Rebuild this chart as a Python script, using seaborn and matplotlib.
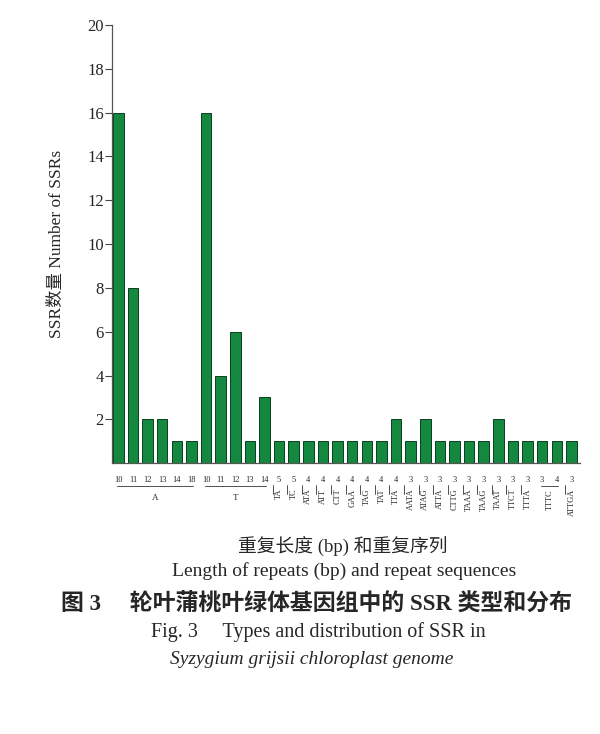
import pandas as pd
import numpy as np
import matplotlib
matplotlib.use("Agg")
import matplotlib.pyplot as plt
import seaborn as sns

# repeat length of each bar, its repeat sequence and the SSR count
repeats = [10, 11, 12, 13, 14, 18,
           10, 11, 12, 13, 14,
           5, 5, 4, 4, 4, 4, 4, 4, 4,
           3, 3, 3, 3, 3, 3, 3, 3, 3, 3, 4, 3]
motifs = ["A"] * 6 + ["T"] * 5 + \
         ["TA", "TC", "ATA", "ATT", "CTT", "GAA", "TAG", "TAT", "TTA",
          "AATA", "ATAG", "ATTA", "CTTG", "TAAA", "TAAG", "TAAT", "TTCT", "TTTA",
          "TTTC", "TTTC", "ATTGA"]
counts = [16, 8, 2, 2, 1, 1,
          16, 4, 6, 1, 3,
          1, 1, 1, 1, 1, 1, 1, 1, 2,
          1, 2, 1, 1, 1, 1, 2, 1, 1, 1, 1, 1]

df = pd.DataFrame({"key": [f"{m}-{r}-{i}" for i, (m, r) in enumerate(zip(motifs, repeats))],
                   "repeat": repeats, "motif": motifs, "count": counts})

sns.set_style("ticks")
plt.rcParams['font.family'] = ['Liberation Serif', 'Noto Sans CJK SC']
plt.rcParams['axes.unicode_minus'] = False

fig = plt.figure(figsize=(6, 7.34), dpi=100)
ax = fig.add_axes([0.187, 0.369, 0.78, 0.597])

sns.barplot(data=df, x="key", y="count", color="#15883f", width=0.72,
            edgecolor="#0b3f1d", linewidth=0.7, saturation=1, ax=ax)

ax.set_ylim(0, 20)
ax.set_xlim(-0.42, 31.6)
ax.set_yticks(np.arange(2, 21, 2))
ax.tick_params(axis="y", labelsize=12, length=5, width=0.8, color="#444", pad=1)
ax.set_xticks(range(len(df)))
ax.set_xticklabels([str(r) for r in repeats], fontsize=6)
ax.tick_params(axis="x", length=0, pad=9)
for s in ["top", "right"]:
    ax.spines[s].set_visible(False)
for s in ["left", "bottom"]:
    ax.spines[s].set_color("#555")
    ax.spines[s].set_linewidth(0.9)
ax.set_xlabel("")
ax.set_ylabel("SSR数量 Number of SSRs", fontsize=12.5, labelpad=16)

# group annotations under the repeat numbers
trans = ax.get_xaxis_transform()
groups = []
start = 0
for i in range(1, len(motifs) + 1):
    if i == len(motifs) or motifs[i] != motifs[start]:
        groups.append((motifs[start], start, i - 1))
        start = i
for name, a, b in groups:
    mid = (a + b) / 2
    if b > a:
        ax.plot([a - 0.1, b + 0.1], [-0.052, -0.052], transform=trans,
                color="#333", lw=0.6, clip_on=False)
        if name in ("A", "T"):
            ax.text(mid, -0.07, name, transform=trans, ha="center", va="top", fontsize=6.5)
        else:
            ax.text(mid, -0.06, name, transform=trans, ha="center", va="top",
                    rotation=90, fontsize=6)
    else:
        ax.plot([mid - 0.45, mid - 0.45], [-0.05, -0.07], transform=trans,
                color="#333", lw=0.6, clip_on=False)
        ax.text(mid, -0.058, name, transform=trans, ha="center", va="top",
                rotation=90, fontsize=6)

fig.text(0.572, 0.2548, "重复长度 (bp) 和重复序列", ha="center", va="center", fontsize=13.5)
fig.text(0.573, 0.222, "Length of repeats (bp) and repeat sequences", ha="center",
         va="center", fontsize=14)
fig.text(0.528, 0.1765, "图 3     轮叶蒲桃叶绿体基因组中的 SSR 类型和分布", ha="center",
         va="center", fontsize=16.5, fontweight="bold")
fig.text(0.53, 0.1385, "Fig. 3     Types and distribution of SSR in", ha="center",
         va="center", fontsize=14.5)
fig.text(0.52, 0.1015, "Syzygium grijsii chloroplast genome", ha="center",
         va="center", fontsize=14, style="italic")

fig.savefig("out.png", dpi=100)
